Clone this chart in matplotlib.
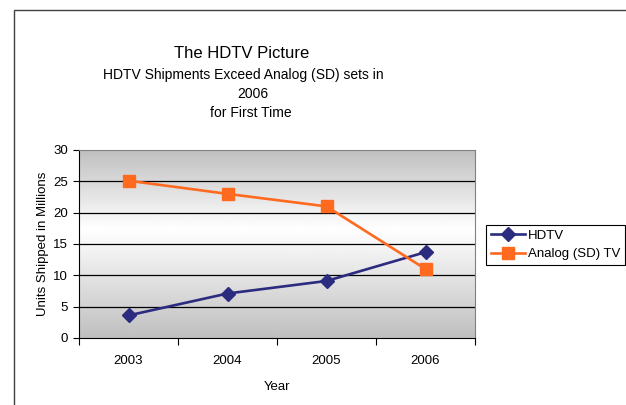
import numpy as np
import matplotlib.pyplot as plt
from matplotlib.patches import Rectangle

# Data
years = ['2003', '2004', '2005', '2006']
hdtv = [3.6, 7.1, 9.1, 13.7]
analog = [25.1, 23.0, 21.0, 11.0]
y_ticks = [0, 5, 10, 15, 20, 25, 30]

plt.rcParams['font.family'] = ['Liberation Sans', 'DejaVu Sans']

fig = plt.figure(figsize=(6.26, 4.05), dpi=100)
W, H = 626, 405
ax = fig.add_axes([79 / W, 1 - 338 / H, (475 - 79) / W, (338 - 150) / H])

x = np.arange(len(years))

# gray-white-gray gradient background like Excel
t = np.linspace(0, 1, 256)
grad = np.where(t < 0.58, 0.75 + 0.25 * (t / 0.58), 1.0 - 0.25 * ((t - 0.58) / 0.42))
grad = grad[:, None]
ax.imshow(grad, cmap='gray', vmin=0, vmax=1, aspect='auto',
          extent=[-0.5, 3.5, 0, 30], origin='lower', zorder=0)

for v in y_ticks[1:-1]:
    ax.axhline(v, color='black', lw=0.9, zorder=1)

ax.plot(x, hdtv, color='#2b2b80', lw=1.9, marker='D', markersize=7, label='HDTV', zorder=3)
ax.plot(x, analog, color='#ff6a1f', lw=1.9, marker='s', markersize=8.5, label='Analog (SD) TV', zorder=3)

ax.set_xlim(-0.5, 3.5)
ax.set_ylim(0, 30)
ax.set_yticks(y_ticks)
ax.set_xticks(np.arange(-0.5, 4, 1))
ax.set_xticklabels([])
ax.set_xticks(x, minor=True)
ax.set_xticklabels(years, minor=True)
ax.tick_params(axis='x', which='major', length=5, direction='out', color='black')
ax.tick_params(axis='x', which='minor', length=0, pad=12, labelsize=9.5)
ax.tick_params(axis='y', length=4, direction='out', labelsize=9.5, pad=4)

for side in ['top', 'right']:
    ax.spines[side].set_color('#808080')
for side in ['left', 'bottom']:
    ax.spines[side].set_color('black')

ax.set_ylabel('Units Shipped in Millions', fontsize=9.5, labelpad=3)
ax.set_xlabel('Year', fontsize=9.5, labelpad=10)

leg = ax.legend(loc='center left', bbox_to_anchor=(486 / W, 1 - 245 / H),
                bbox_transform=fig.transFigure, fancybox=False, edgecolor='black',
                framealpha=1, fontsize=9.5, handlelength=2.6, borderpad=0.35,
                labelspacing=0.45, handletextpad=0.2, borderaxespad=0)
leg.get_frame().set_linewidth(0.8)

fig.text(242 / W, 1 - 53 / H, 'The HDTV Picture', ha='center', va='center', fontsize=12)
fig.text(243 / W, 1 - 75 / H, 'HDTV Shipments Exceed Analog (SD) sets in', ha='center', va='center', fontsize=10)
fig.text(253 / W, 1 - 94 / H, '2006', ha='center', va='center', fontsize=10)
fig.text(251 / W, 1 - 113 / H, 'for First Time', ha='center', va='center', fontsize=10)

# outer chart border (clipped at right and bottom)
fig.patches.append(Rectangle((14 / W, -0.1), 1.2, 1 - 10 / H + 0.1, transform=fig.transFigure,
                             fill=False, edgecolor='#404040', lw=1.0))

fig.savefig('out.png', dpi=100)
